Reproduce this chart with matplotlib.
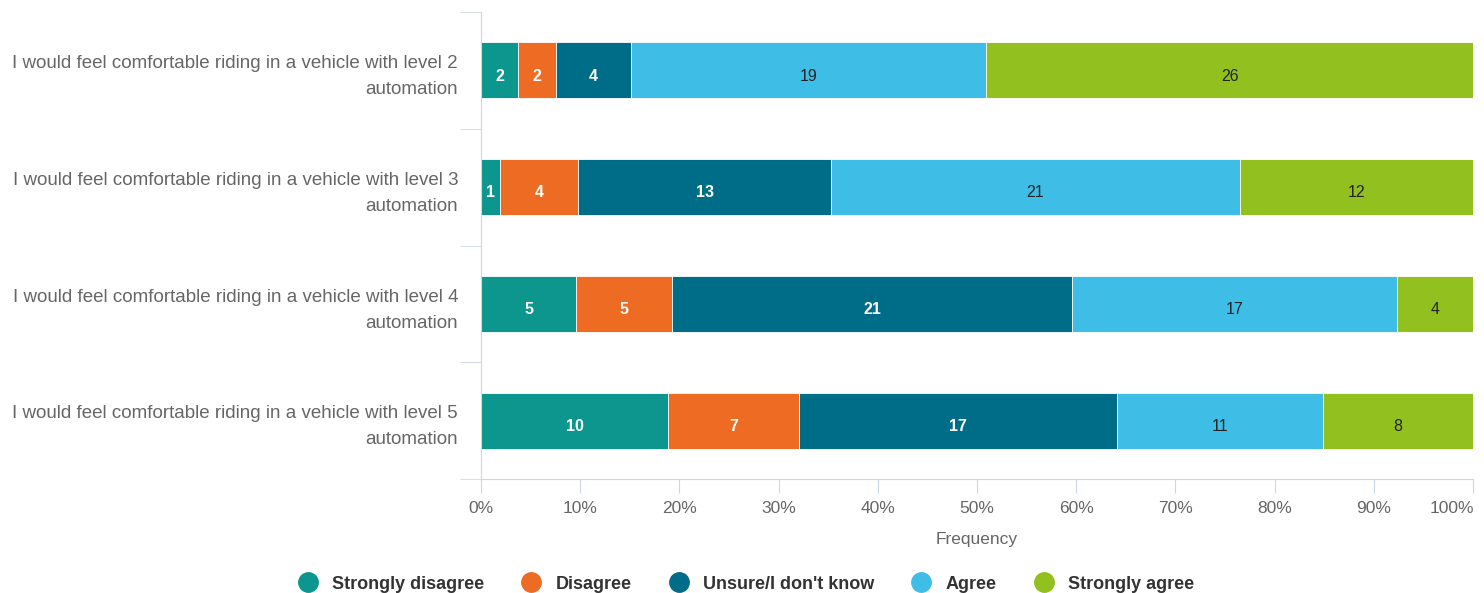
import numpy as np
import matplotlib.pyplot as plt
from matplotlib.lines import Line2D
from matplotlib.ticker import FuncFormatter

plt.rcParams['font.family'] = ['Liberation Sans', 'DejaVu Sans']

categories = [
    "I would feel comfortable riding in a vehicle with level 2\nautomation",
    "I would feel comfortable riding in a vehicle with level 3\nautomation",
    "I would feel comfortable riding in a vehicle with level 4\nautomation",
    "I would feel comfortable riding in a vehicle with level 5\nautomation",
]
series_names = ["Strongly disagree", "Disagree", "Unsure/I don't know", "Agree", "Strongly agree"]
strongly_disagree = [2, 1, 5, 10]
disagree = [2, 4, 5, 7]
unsure = [4, 13, 21, 17]
agree = [19, 21, 17, 11]
strongly_agree = [26, 12, 4, 8]

colors = ["#0d968d", "#ed6b22", "#006d88", "#3ebee6", "#92c01f"]
label_colors = ["white", "white", "white", "#222222", "#222222"]
label_weights = ["bold", "bold", "bold", "normal", "normal"]

counts = np.array([strongly_disagree, disagree, unsure, agree, strongly_agree], dtype=float)
totals = counts.sum(axis=0)
pct = counts / totals * 100

fig = plt.figure(figsize=(14.84, 5.93), dpi=100)
ax = fig.add_axes([0.3241, 0.1922, 0.6685, 0.7876])

y = np.arange(len(categories))
left = np.zeros(len(categories))
for i in range(len(series_names)):
    ax.barh(y, pct[i], left=left, height=0.48, color=colors[i],
            edgecolor="white", linewidth=0.6)
    for j in range(len(categories)):
        ax.text(left[j] + pct[i][j] / 2, y[j] + 0.05, str(int(counts[i][j])),
                ha="center", va="center", fontsize=11.5,
                color=label_colors[i], fontweight=label_weights[i])
    left += pct[i]

ax.set_xlim(0, 100)
ax.set_ylim(len(categories) - 0.5, -0.5)
ax.xaxis.set_major_locator(plt.MultipleLocator(10))
# last label is drawn separately, right aligned so it stays inside the figure
ax.xaxis.set_major_formatter(FuncFormatter(lambda v, p: "" if v >= 100 else f"{v:.0f}%"))

grid_c = "#ccd6eb"
for s in ["top", "right"]:
    ax.spines[s].set_visible(False)
ax.spines["left"].set_color(grid_c)
ax.spines["bottom"].set_color(grid_c)
ax.tick_params(axis="x", colors=grid_c, labelcolor="#666666", labelsize=12.5,
               length=10, pad=6)
ax.annotate("100%", xy=(100, 0), xycoords=("data", "axes fraction"),
            xytext=(0.5, -16), textcoords="offset points", ha="right", va="top",
            fontsize=12.5, color="#666666")

# category labels
ax.set_yticks(y)
ax.set_yticklabels([])
ax.tick_params(axis="y", length=0)
for yi, cat in zip(y, categories):
    ax.annotate(cat, xy=(0, yi), xycoords=("axes fraction", "data"),
                xytext=(-16.5, -4.5), textcoords="offset points",
                ha="right", va="center", fontsize=13.5, color="#666666",
                linespacing=1.7)
# category boundary ticks
ax.set_yticks(np.arange(-0.5, len(categories) + 0.5, 1), minor=True)
ax.tick_params(axis="y", which="minor", length=15, color=grid_c)

ax.set_xlabel("Frequency", fontsize=12.5, color="#666666", labelpad=11)

handles = [Line2D([0], [0], marker="o", linestyle="", markersize=14,
                  markerfacecolor=c, markeredgecolor=c) for c in colors]
fig.legend(handles, series_names, loc="lower center", ncol=5, frameon=False,
           bbox_to_anchor=(0.500, -0.027), handletextpad=0.35, columnspacing=1.6,
           prop={"size": 13, "weight": "bold"}, labelcolor="#333333")

fig.savefig("out.png", dpi=100)
